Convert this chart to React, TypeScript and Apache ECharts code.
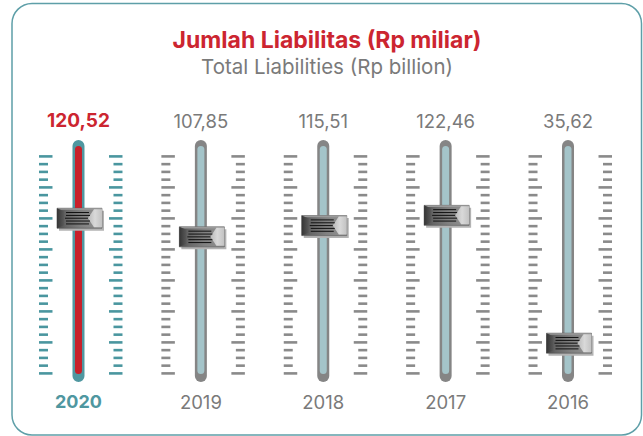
import React, { useEffect, useRef } from "react";
import * as echarts from "echarts";

const years = ["2020", "2019", "2018", "2017", "2016"];
const values = [120.52, 107.85, 115.51, 122.46, 35.62];
const valueLabels = ["120,52", "107,85", "115,51", "122,46", "35,62"];
const titleText = "Jumlah Liabilitas (Rp miliar)";
const subtitleText = "Total Liabilities (Rp billion)";

const TEAL = "#4f97a0";
const RED = "#cc2530";
const GREY = "#858585";
const LIGHT = "#a4c4c9";
const TEXT_GREY = "#7a7a7a";
const FONT = "Inter, sans-serif";

export default function App() {
  const ref = useRef<HTMLDivElement>(null);

  useEffect(() => {
    const chart = echarts.init(ref.current!, null, { renderer: "svg" });

    const renderItem = (params: any, api: any) => {
      const i = api.value(0);
      const v = api.value(1);
      const [cx, cy] = api.coord([i, v]);
      const cs = params.coordSys;
      const active = i === 0;
      const tickColor = active ? "#4a969f" : "#8a8a8a";
      const outer = active ? TEAL : GREY;
      const inner = active ? "#c8202a" : LIGHT;
      const trackTop = cs.y - 5.5;
      const trackBottom = cs.y + cs.height - 13.5;
      const tickTop = cs.y + 11;
      const tickStep = 7.75;
      const children: any[] = [];
      for (let k = 0; k < 29; k++) {
        const y = tickTop + k * tickStep;
        const long = k % 4 === 0;
        const lw = long ? 13.5 : 9;
        children.push({
          type: "rect",
          shape: { x: cx - 39.5, y: y - 1.3, width: lw, height: 2.6 },
          style: { fill: tickColor },
        });
        children.push({
          type: "rect",
          shape: { x: cx + 44 - lw, y: y - 1.3, width: lw, height: 2.6 },
          style: { fill: tickColor },
        });
      }
      children.push({
        type: "rect",
        shape: { x: cx - 6, y: trackTop, width: 12, height: trackBottom - trackTop, r: 6 },
        style: { fill: outer },
      });
      children.push({
        type: "rect",
        shape: { x: cx - 3.5, y: trackTop + 6, width: 7, height: trackBottom - trackTop - 14, r: 3.5 },
        style: { fill: inner },
      });
      const w = 45;
      const h = 20;
      const hx = cx - w / 2 + 1;
      const hy = cy - h / 2;
      children.push({
        type: "rect",
        shape: { x: hx + 2, y: hy + 2.5, width: w, height: h },
        style: { fill: "#b3b3b3" },
      });
      children.push({
        type: "rect",
        shape: { x: hx, y: hy, width: w, height: h },
        style: {
          fill: {
            type: "linear", x: 0, y: 0, x2: 1, y2: 0,
            colorStops: [
              { offset: 0, color: "#454545" },
              { offset: 0.2, color: "#666666" },
              { offset: 0.55, color: "#818181" },
              { offset: 1, color: "#949494" },
            ],
          },
          stroke: "#555",
          lineWidth: 0.6,
        },
      });
      children.push({
        type: "rect",
        shape: { x: hx, y: hy, width: w, height: 1.6 },
        style: { fill: "#9a9a9a" },
      });
      children.push({
        type: "polygon",
        shape: { points: [[hx, hy], [hx + 7, hy + 3], [hx + 7, hy + h - 3], [hx, hy + h]] },
        style: {
          fill: {
            type: "linear", x: 0, y: 0, x2: 1, y2: 0,
            colorStops: [
              { offset: 0, color: "#353535" },
              { offset: 1, color: "#595959" },
            ],
          },
        },
      });
      children.push({
        type: "polygon",
        shape: {
          points: [
            [hx + 37, hy + 1],
            [hx + w, hy + 1],
            [hx + w, hy + h - 1],
            [hx + 37, hy + h - 1],
            [hx + 31, hy + h / 2],
          ],
        },
        style: {
          fill: {
            type: "linear", x: 0, y: 0, x2: 1, y2: 0,
            colorStops: [
              { offset: 0, color: "#b9b9b9" },
              { offset: 0.5, color: "#d9d9d9" },
              { offset: 1, color: "#c2c2c2" },
            ],
          },
        },
      });
      const lineYs = [4.3, 7.2, 10, 12.8, 15.7];
      lineYs.forEach((ly, j) => {
        const mid = j === 2;
        children.push({
          type: "line",
          shape: { x1: hx + (mid ? 8 : 9), y1: hy + ly, x2: hx + (mid ? 31 : 34 - Math.abs(j - 2)), y2: hy + ly },
          style: { stroke: "#111", lineWidth: 1 },
        });
      });
      return { type: "group", children };
    };

    chart.setOption({
      animation: false,
      grid: { left: 17.3, right: 13.8, top: 145.4, bottom: 40.4 },
      xAxis: [
        {
          type: "category",
          data: years,
          position: "bottom",
          axisLine: { show: false },
          axisTick: { show: false },
          axisLabel: {
            margin: -3,
            fontFamily: FONT,
            fontSize: 18.5,
            formatter: (val: string, idx: number) => (idx === 0 ? `{a|${val}}` : `{b|${val}}`),
            rich: {
              a: { color: TEAL, fontWeight: "bold", fontSize: 18, fontFamily: FONT },
              b: { color: TEXT_GREY, fontSize: 18.5, fontFamily: FONT },
            },
          },
        },
        {
          type: "category",
          data: valueLabels,
          position: "top",
          axisLine: { show: false },
          axisTick: { show: false },
          axisLabel: {
            margin: 15,
            fontFamily: FONT,
            fontSize: 18.5,
            formatter: (val: string, idx: number) => (idx === 0 ? `{a|${val}}` : `{b|${val}}`),
            rich: {
              a: { color: RED, fontWeight: "bold", fontSize: 19, fontFamily: FONT },
              b: { color: TEXT_GREY, fontSize: 18.5, fontFamily: FONT },
            },
          },
        },
      ],
      yAxis: { type: "value", min: 0, max: 170, show: false },
      graphic: [
        {
          type: "rect",
          shape: { x: 12, y: 3.5, width: 629.5, height: 431.5, r: 20 },
          style: { fill: "none", stroke: "#5e9fa8", lineWidth: 1.5 },
          z: -1,
        },
        {
          type: "text",
          x: 327,
          y: 40,
          style: {
            text: titleText,
            fill: RED,
            font: `bold 23px ${FONT}`,
            textAlign: "center",
            textVerticalAlign: "middle",
          },
        },
        {
          type: "text",
          x: 327,
          y: 66,
          style: {
            text: subtitleText,
            fill: TEXT_GREY,
            font: `20.5px ${FONT}`,
            textAlign: "center",
            textVerticalAlign: "middle",
          },
        },
      ],
      series: [
        {
          type: "custom",
          xAxisIndex: 0,
          yAxisIndex: 0,
          renderItem,
          data: values.map((v, i) => [i, v]),
        },
      ],
    });

    return () => chart.dispose();
  }, []);

  return (
    <div
      ref={ref}
      style={{ position: "fixed", left: 0, top: 0, width: 643, height: 436, background: "#fff" }}
    />
  );
}
